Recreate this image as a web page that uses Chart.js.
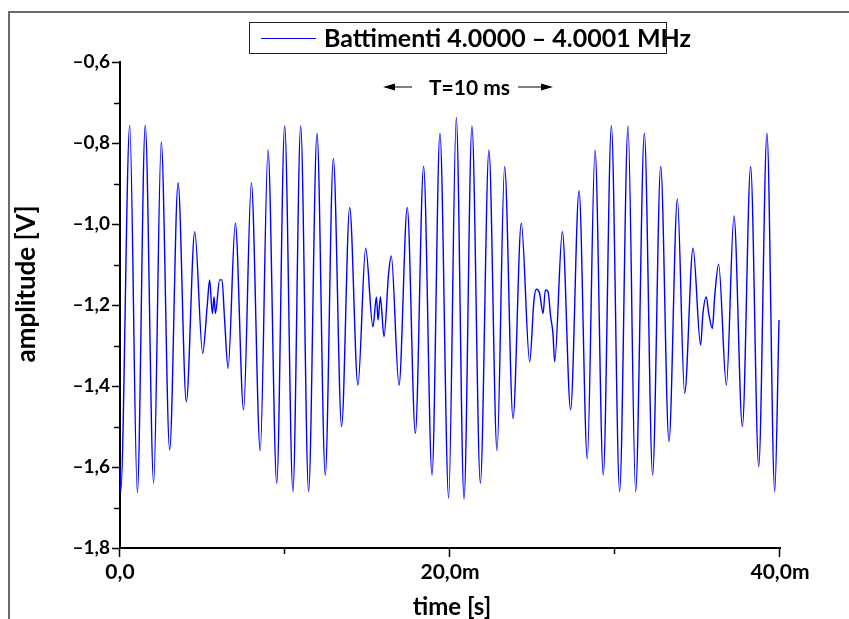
<!DOCTYPE html>
<html>
<head>
<meta charset="utf-8">
<script src="https://cdn.jsdelivr.net/npm/chart.js@4.4.0/dist/chart.umd.min.js"></script>
<style>
    html, body { margin: 0; padding: 0; background: #fff; }
    #wrap { width: 849px; height: 619px; }
</style>
</head>
<body>
<div id="wrap"><canvas id="beat" width="849" height="619"></canvas></div>
<script>
// Values: time in ms, amplitude in V
const timeMs = [
    0.00, 0.04, 0.59, 1.05, 1.53, 2.04, 2.50, 3.01, 3.52, 4.02, 4.53, 5.01,
    5.29, 5.43, 5.60, 5.70, 5.78, 6.04, 6.18, 6.34, 6.55, 6.99, 7.49, 7.96,
    8.50, 8.97, 9.50, 9.98, 10.48, 10.95, 11.43, 11.94, 12.44, 12.93, 13.43, 13.92,
    14.42, 14.89, 15.33, 15.54, 15.64, 15.78, 16.00, 16.28, 16.44, 16.91, 17.41, 17.90,
    18.40, 18.91, 19.39, 19.92, 20.38, 20.85, 21.33, 21.84, 22.36, 22.85, 23.31, 23.82,
    24.32, 24.83, 25.09, 25.23, 25.43, 25.64, 25.78, 25.94, 26.10, 26.24, 26.34, 26.81,
    27.31, 27.82, 28.32, 28.79, 29.29, 29.78, 30.28, 30.79, 31.25, 31.78, 32.28, 32.77,
    33.27, 33.78, 34.22, 34.73, 35.19, 35.33, 35.53, 35.68, 35.90, 36.04, 36.28, 36.75,
    37.21, 37.72, 38.22, 38.71, 39.21, 39.68, 39.94
];
const amplitude = [
    -1.600, -1.661, -0.756, -1.663, -0.756, -1.640, -0.797, -1.558, -0.898, -1.439, -1.019, -1.319,
    -1.200, -1.138, -1.221, -1.180, -1.221, -1.138, -1.138, -1.237, -1.356, -0.998, -1.459, -0.898,
    -1.560, -0.817, -1.640, -0.757, -1.661, -0.757, -1.661, -0.776, -1.620, -0.838, -1.500, -0.959,
    -1.398, -1.060, -1.254, -1.180, -1.237, -1.180, -1.278, -1.122, -1.079, -1.398, -0.959, -1.517,
    -0.857, -1.620, -0.776, -1.677, -0.737, -1.679, -0.757, -1.640, -0.817, -1.560, -0.858, -1.480,
    -0.998, -1.340, -1.188, -1.161, -1.171, -1.221, -1.163, -1.167, -1.229, -1.270, -1.340, -1.019,
    -1.459, -0.918, -1.580, -0.817, -1.620, -0.757, -1.661, -0.757, -1.661, -0.776, -1.620, -0.857,
    -1.537, -0.938, -1.418, -1.060, -1.299, -1.221, -1.180, -1.221, -1.258, -1.180, -1.099, -1.398,
    -0.980, -1.500, -0.858, -1.599, -0.776, -1.661, -1.237
];
const xMajorTicks = [0, 20, 40];
const xMinorTicks = [10, 30];
const yMajorTicks = [-1.8, -1.6, -1.4, -1.2, -1.0, -0.8, -0.6];
const yMinorTicks = [-1.7, -1.5, -1.3, -1.1, -0.9, -0.7];

const seriesLabel = 'Battimenti 4.0000 \u2013 4.0001 MHz';
const periodNote = 'T=10 ms';
const xTitle = 'time [s]';
const yTitle = 'amplitude [V]';

const FONT = 'Lato, "Open Sans", sans-serif';

function fmtY(v) {
    const s = Math.abs(v).toFixed(1).replace('.', ',');
    return (v < 0 ? '\u2013' : '') + s;
}
function fmtX(v) {
    if (v === 0) return '0,0';
    return v.toFixed(1).replace('.', ',') + 'm';
}

// frame, ticks, legend, titles and the T=10 ms note
const decorations = {
    id: 'decorations',
    beforeDraw(chart) {
        const ctx = chart.ctx;
        ctx.save();
        ctx.fillStyle = '#fff';
        ctx.fillRect(0, 0, chart.width, chart.height);
        ctx.restore();
    },
    afterDraw(chart) {
        const ctx = chart.ctx;
        const xs = chart.scales.x;
        const ys = chart.scales.y;
        const area = chart.chartArea;
        ctx.save();

        // outer frame (top and left only)
        ctx.strokeStyle = '#6a6a6a';
        ctx.lineWidth = 2;
        ctx.beginPath();
        ctx.moveTo(9, chart.height);
        ctx.lineTo(9, 12);
        ctx.lineTo(chart.width, 12);
        ctx.stroke();

        // tick marks
        ctx.strokeStyle = '#000';
        ctx.lineWidth = 1.5;
        ctx.beginPath();
        yMajorTicks.forEach(v => {
            const p = Math.round(ys.getPixelForValue(v)) + 0.5;
            ctx.moveTo(area.left, p); ctx.lineTo(area.left - 8, p);
        });
        yMinorTicks.forEach(v => {
            const p = Math.round(ys.getPixelForValue(v)) + 0.5;
            ctx.moveTo(area.left, p); ctx.lineTo(area.left - 6, p);
        });
        xMajorTicks.forEach(v => {
            const p = Math.round(xs.getPixelForValue(v)) - 0.5;
            ctx.moveTo(p, area.bottom); ctx.lineTo(p, area.bottom + 9);
        });
        xMinorTicks.forEach(v => {
            const p = Math.round(xs.getPixelForValue(v)) - 0.5;
            ctx.moveTo(p, area.bottom); ctx.lineTo(p, area.bottom + 6);
        });
        ctx.stroke();

        // axis titles
        ctx.fillStyle = '#000';
        ctx.font = 'bold 24px ' + FONT;
        ctx.textAlign = 'center';
        ctx.textBaseline = 'alphabetic';
        ctx.fillText(xTitle, 452, 615, 82);
        ctx.save();
        ctx.translate(35, 284);
        ctx.rotate(-Math.PI / 2);
        ctx.font = 'bold 26px ' + FONT;
        ctx.fillText(yTitle, 0, 0, 172);
        ctx.restore();

        // legend
        ctx.textAlign = 'left';
        ctx.font = 'bold 25px ' + FONT;
        ctx.fillText(seriesLabel, 324, 47, 368);
        ctx.strokeStyle = '#0000ff';
        ctx.lineWidth = 1;
        ctx.beginPath();
        ctx.moveTo(261, 38.5); ctx.lineTo(316, 38.5);
        ctx.stroke();
        ctx.strokeStyle = '#222';
        ctx.strokeRect(249.5, 22.5, 417, 31);

        // period note with arrows
        ctx.font = 'bold 21px ' + FONT;
        ctx.fillText(periodNote, 429, 95, 86);
        ctx.strokeStyle = '#000';
        ctx.lineWidth = 1.2;
        ctx.beginPath();
        ctx.moveTo(392, 87); ctx.lineTo(412, 87);
        ctx.moveTo(518, 87); ctx.lineTo(544, 87);
        ctx.stroke();
        ctx.beginPath();
        ctx.moveTo(383, 87); ctx.lineTo(395, 83.5); ctx.lineTo(395, 90.5); ctx.closePath();
        ctx.moveTo(553, 87); ctx.lineTo(541, 83.5); ctx.lineTo(541, 90.5); ctx.closePath();
        ctx.fill();

        ctx.restore();
    }
};

new Chart(document.getElementById('beat'), {
    type: 'line',
    data: {
        datasets: [{
            label: seriesLabel,
            data: timeMs.map((t, i) => ({ x: t, y: amplitude[i] })),
            borderColor: '#0000ff',
            borderWidth: 1.4,
            pointRadius: 0,
            fill: false,
            cubicInterpolationMode: 'monotone'
        }]
    },
    options: {
        responsive: false,
        animation: false,
        devicePixelRatio: 1,
        layout: { padding: { top: 62, right: 69, left: 0, bottom: 0 } },
        plugins: {
            legend: { display: false },
            tooltip: { enabled: false }
        },
        scales: {
            x: {
                type: 'linear',
                min: 0,
                max: 40,
                grid: { display: false, drawTicks: false },
                border: { display: true, color: '#000', width: 2 },
                ticks: {
                    stepSize: 20,
                    padding: 12,
                    color: '#000',
                    font: { family: FONT, size: 21, weight: 'bold' },
                    maxRotation: 0,
                    callback: v => fmtX(v)
                },
                afterFit: s => { s.height = 71; }
            },
            y: {
                min: -1.8,
                max: -0.6,
                grid: { display: false, drawTicks: false },
                border: { display: true, color: '#000', width: 2 },
                ticks: {
                    stepSize: 0.2,
                    padding: 10,
                    color: '#000',
                    font: { family: FONT, size: 19, weight: 'bold' },
                    callback: v => fmtY(v)
                },
                afterFit: s => { s.width = 120; }
            }
        }
    },
    plugins: [decorations]
});
</script>
</body>
</html>
